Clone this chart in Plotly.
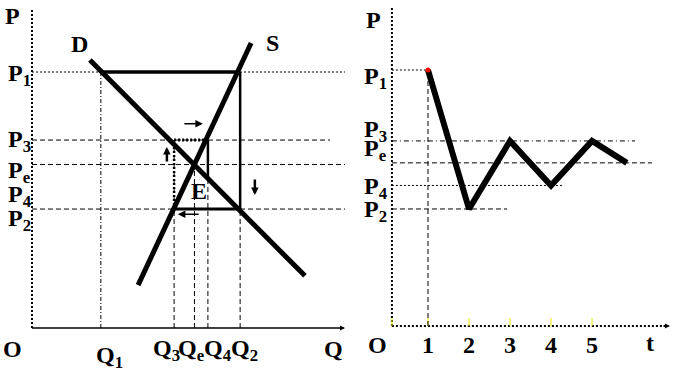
import plotly.graph_objects as go

# ---- data (left panel: cobweb, in P/Q units) ----
Q_names = ["Q1", "Q3", "Qe", "Q4", "Q2"]
Q1, Q3, Qe, Q4, Q2 = 2.20, 4.54, 5.19, 5.62, 6.65
P1, P3, Pe, P4, P2 = 8.05, 5.91, 5.14, 4.75, 3.74
demand_Q = [1.85, 8.72]
demand_P = [8.43, 1.64]
supply_Q = [3.39, 7.00]
supply_P = [1.35, 8.96]

# ---- data (right panel: price over time) ----
t_vals = [1, 2, 3, 4, 5, 5.85]
price_path = [8.05, 3.68, 5.82, 4.42, 5.82, 5.13]
t_ticks = [1, 2, 3, 4, 5]

FONT = "Liberation Serif"
fig = go.Figure()

def seg(x, y, width=1, dash="solid", color="black", ax="1"):
    xa = "x" if ax == "1" else "x2"
    ya = "y" if ax == "1" else "y2"
    fig.add_trace(go.Scatter(x=x, y=y, mode="lines", xaxis=xa, yaxis=ya,
                             line=dict(color=color, width=width, dash=dash),
                             hoverinfo="skip", showlegend=False))

DOT = "2px,2px"
DASH = "5px,3px"

# ---------- left panel ----------
seg([0, 0], [0, 10.06], 2, DOT)           # P axis
seg([0, 9.95], [0, 0], 1.5)                # Q axis
# guides
seg([0, 10], [P1, P1], 1, DOT)
seg([0, 9.52], [P3, P3], 1, DASH)
seg([0, 10], [Pe, Pe], 1, DASH)
seg([0, 10], [P2, P2], 1, DASH)
seg([Q1, Q1], [0, P1], 1, "4px,2px,1px,2px")
seg([Q3, Q3], [0, P3], 1, DASH)
seg([Qe, Qe], [0, Pe], 1, DASH)
seg([Q4, Q4], [0, P4], 1, DASH)
seg([Q2, Q2], [0, P2], 1, DASH)
# demand & supply
seg(demand_Q, demand_P, 5)
seg(supply_Q, supply_P, 5)
# cobweb path
seg([Q1, Q2], [P1, P1], 3.5)
seg([Q2, Q2], [P1, P2], 2.5)
seg([Q2, Q3], [P2, P2], 3)
seg([Q3, Q3], [P2, P3], 2.5, DOT)
seg([Q3, Q4], [P3, P3], 3, DOT)
seg([Q4, Q4], [P3, P4], 2.5)

# ---------- right panel ----------
seg([0.12, 0.12], [0, 10.0], 2, DOT, ax="2")
seg([0.12, 6.85], [0, 0], 2, DOT, ax="2")
for tk in [0.12] + t_ticks:
    seg([tk, tk], [0, 0.25], 1, "solid", "#e8e800", ax="2")
seg([0.12, 1], [price_path[0]] * 2, 1, DOT, ax="2")
seg([1, 1], [0, price_path[0]], 1, DASH, ax="2")
seg([0.12, 6.05], [price_path[2]] * 2, 1, "5px,3px,1px,3px", ax="2")
seg([0.12, 6.46], [price_path[5]] * 2, 1, DASH, ax="2")
seg([0.12, 4.27], [price_path[3]] * 2, 1, DOT, ax="2")
seg([0.12, 2.93], [price_path[1]] * 2, 1, DASH, ax="2")
seg(t_vals, price_path, 6, ax="2")
fig.add_trace(go.Scatter(x=[t_vals[0]], y=[price_path[0]], mode="markers",
                         xaxis="x2", yaxis="y2", marker=dict(color="red", size=5),
                         hoverinfo="skip", showlegend=False))

# ---------- labels ----------
ann = []
def lab(text, x, y, ax="1", size=24, xanchor="center"):
    ann.append(dict(text="<b>" + text + "</b>", x=x, y=y,
                    xref="x" if ax == "1" else "x2", yref="y" if ax == "1" else "y2",
                    showarrow=False, xanchor=xanchor, yanchor="middle",
                    font=dict(family=FONT, size=size, color="black")))

lab("P", -0.61, 9.81)
lab("D", 1.53, 8.93)
lab("S", 7.67, 8.96)
lab("E", 5.34, 4.31)
lab("O", -0.61, -0.66)
lab("Q", 9.62, -0.66)
left_plabels = [("P<sub>1</sub>", 7.95), ("P<sub>3</sub>", 5.88), ("P<sub>e</sub>", 4.92),
                ("P<sub>4</sub>", 4.15), ("P<sub>2</sub>", 3.40)]
for txt, yy in left_plabels:
    lab(txt, -0.83, yy, xanchor="left")
q_lab_x = [2.49, 4.31, 5.11, 5.94, 6.80]
q_lab_y = [-0.90, -0.70, -0.70, -0.70, -0.70]
for nm, xx, yy in zip(Q_names, q_lab_x, q_lab_y):
    lab("Q<sub>" + nm[1:] + "</sub>", xx, yy)

lab("P", -0.34, 9.62, "2")
right_plabels = [("P<sub>1</sub>", 7.80), ("P<sub>3</sub>", 6.14), ("P<sub>e</sub>", 5.52),
                 ("P<sub>4</sub>", 4.35), ("P<sub>2</sub>", 3.62)]
for txt, yy in right_plabels:
    lab(txt, -0.62, yy, "2", xanchor="left")
lab("O", -0.24, -0.60, "2")
for tk in t_ticks:
    lab(str(tk), tk, -0.60, "2")
lab("t", 6.41, -0.53, "2")

# arrows
def arrow(x, y, axx, ayy, w=1.5, size=1.0):
    ann.append(dict(x=x, y=y, ax=axx, ay=ayy, xref="x", yref="y", axref="x", ayref="y",
                    showarrow=True, arrowhead=2, arrowsize=size, arrowwidth=w,
                    arrowcolor="black", text=""))
arrow(5.46, 6.42, 4.82, 6.42)
arrow(4.31, 5.69, 4.31, 5.19, 2.5, 0.6)
arrow(7.12, 4.18, 7.12, 4.72, 2.5, 0.6)
arrow(4.66, 3.58, 5.37, 3.58)
arrow(10.0, 0, 9.8, 0, 1)
ann.append(dict(x=6.9, y=0, ax=6.7, ay=0, xref="x2", yref="y2", axref="x2", ayref="y2",
                showarrow=True, arrowhead=2, arrowsize=1, arrowwidth=1,
                arrowcolor="black", text=""))

fig.update_layout(
    width=688, height=384, autosize=False,
    margin=dict(l=0, r=0, t=0, b=0),
    paper_bgcolor="white", plot_bgcolor="white",
    xaxis=dict(domain=[0, 345 / 688], range=[-1.022, 10.0], visible=False),
    yaxis=dict(domain=[0, 1], range=[-1.761, 10.314], visible=False),
    xaxis2=dict(domain=[345 / 688, 1], range=[-1.024, 7.341], visible=False),
    yaxis2=dict(domain=[0, 1], range=[-1.824, 10.252], visible=False, anchor="x2"),
    annotations=ann,
)
fig.write_html("out.html")
